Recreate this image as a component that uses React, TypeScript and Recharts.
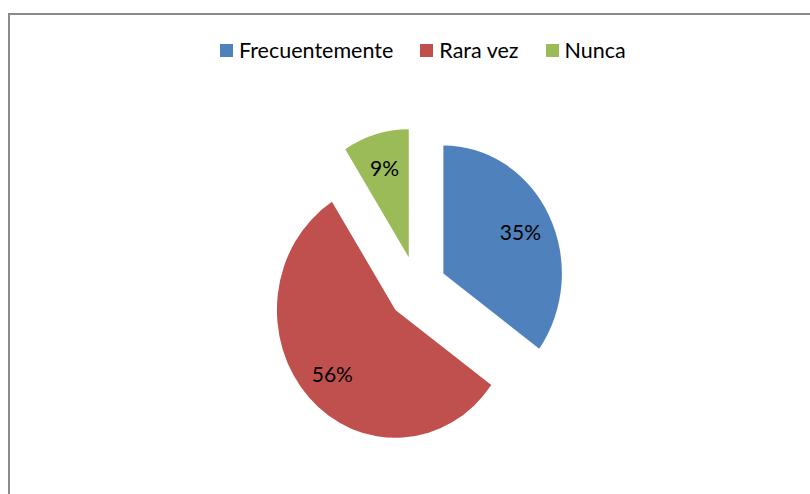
import { PieChart, Pie, Cell, Legend, Sector } from 'recharts'

const categories = ['Frecuentemente', 'Rara vez', 'Nunca']
const values = [35, 56, 9]
const colors = ['#4F81BD', '#C0504D', '#9BBB59']

const data = categories.map((name, i) => ({ name, value: values[i] }))

const RAD = Math.PI / 180
const EXPLODE = 29.6
const KY = 1.08
const FONT = 'Lato, "Open Sans", sans-serif'

function ExplodedSector(props: any) {
  const { cx, cy, midAngle } = props
  const dx = EXPLODE * Math.cos(-midAngle * RAD)
  const dy = EXPLODE * Math.sin(-midAngle * RAD)
  return (
    <g transform={`translate(0 ${cy}) scale(1 ${KY}) translate(0 ${-cy})`}>
      <Sector {...props} cx={cx + dx} cy={cy + dy} stroke="none" />
    </g>
  )
}

function renderLabel({ cx, cy, midAngle, outerRadius, percent }: any) {
  const r = outerRadius * 0.73 + EXPLODE
  const x = cx + r * Math.cos(-midAngle * RAD)
  const y = cy + r * Math.sin(-midAngle * RAD) * KY
  return (
    <text x={x} y={y} textAnchor="middle" dominantBaseline="central" fill="#000" fontSize={21} fontFamily={FONT}>
      {`${Math.round(percent * 100)}%`}
    </text>
  )
}

function renderLegend() {
  return (
    <div style={{ display: 'flex', alignItems: 'center', fontFamily: FONT, fontSize: 21.5, color: '#000', whiteSpace: 'nowrap' }}>
      {categories.map((c, i) => (
        <div key={c} style={{ display: 'flex', alignItems: 'center', marginRight: 27 }}>
          <span style={{ width: 13, height: 13, background: colors[i], marginRight: 6, display: 'inline-block' }} />
          <span>{c}</span>
        </div>
      ))}
    </div>
  )
}

export default function App() {
  return (
    <div style={{ position: 'absolute', left: 0, top: 0, width: 810, height: 494, background: '#fff', overflow: 'hidden' }}>
      <div
        style={{
          position: 'absolute',
          left: 8,
          top: 13,
          width: 820,
          height: 500,
          borderTop: '2px solid #898989',
          borderLeft: '2px solid #898989',
        }}
      />
      <div style={{ position: 'absolute', left: 0, top: 0 }}>
        <PieChart width={810} height={494} margin={{ top: 0, right: 0, bottom: 0, left: 0 }}>
          <Legend
            layout="horizontal"
            verticalAlign="middle"
            align="center"
            content={renderLegend}
            wrapperStyle={{ top: 37, left: 220, width: 'auto' }}
          />
          <Pie
            data={data}
            dataKey="value"
            nameKey="name"
            cx={417}
            cy={288}
            outerRadius={118.5}
            startAngle={90}
            endAngle={-270}
            stroke="none"
            shape={ExplodedSector}
            label={renderLabel}
            labelLine={false}
            isAnimationActive={false}
          >
            {data.map((d, i) => (
              <Cell key={d.name} fill={colors[i]} />
            ))}
          </Pie>
        </PieChart>
      </div>
    </div>
  )
}
